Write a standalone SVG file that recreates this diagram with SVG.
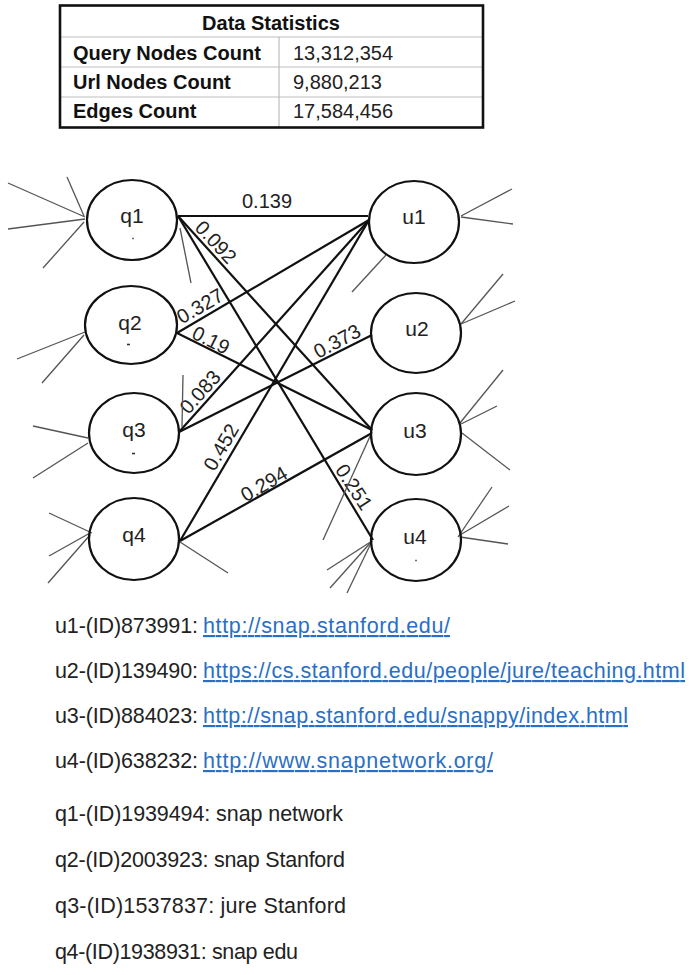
<svg xmlns="http://www.w3.org/2000/svg" width="689" height="975" viewBox="0 0 689 975">
<style>
.bg{fill:#ffffff}
.node{fill:none;stroke:#111;stroke-width:2.2}
.lbl{font-family:"Liberation Sans",Arial,sans-serif;font-size:21px;fill:#222;text-anchor:middle}
.edge{stroke:#111;stroke-width:2.2;fill:none}
.stub{stroke:#555;stroke-width:1.3;fill:none}
.elbl{font-family:"Liberation Sans",Arial,sans-serif;font-size:20px;fill:#222;text-anchor:middle}
.dot{stroke:#333;stroke-width:1.6}
.tb{font-family:"Liberation Sans",Arial,sans-serif;font-size:20px;font-weight:bold;fill:#111}
.tv{font-family:"Liberation Sans",Arial,sans-serif;font-size:20px;fill:#222}
.grid{stroke:#bdbdbd;stroke-width:1.2}
.leg{font-family:"Liberation Sans",Arial,sans-serif;font-size:21.5px;fill:#222}
.link{font-family:"Liberation Sans",Arial,sans-serif;font-size:21.5px;fill:#2a6fc4;text-decoration:underline}
</style>
<rect class="bg" x="0" y="0" width="689" height="975"/>

<g id="stats-table">
  <line class="grid" x1="61" y1="37" x2="482" y2="37"/>
  <line class="grid" x1="61" y1="67" x2="482" y2="67"/>
  <line class="grid" x1="61" y1="97" x2="482" y2="97"/>
  <line class="grid" x1="279" y1="37" x2="279" y2="127"/>
  <rect x="60" y="5.5" width="423" height="122" fill="none" stroke="#111" stroke-width="2.6"/>
  <text class="tb" x="271" y="30" text-anchor="middle">Data Statistics</text>
  <text class="tb" x="73" y="60">Query Nodes Count</text>
  <text class="tv" x="293" y="60">13,312,354</text>
  <text class="tb" x="73" y="89">Url Nodes Count</text>
  <text class="tv" x="293" y="89">9,880,213</text>
  <text class="tb" x="73" y="118">Edges Count</text>
  <text class="tv" x="293" y="118">17,584,456</text>
</g>

<g id="connectors">
  <line class="edge" x1="178" y1="216" x2="368" y2="216"/>
  <line class="edge" x1="178" y1="216" x2="372" y2="430"/>
  <line class="edge" x1="178" y1="216" x2="373" y2="540"/>
  <line class="edge" x1="177" y1="333" x2="369" y2="220"/>
  <line class="edge" x1="177" y1="333" x2="372" y2="430"/>
  <line class="edge" x1="179" y1="432" x2="369" y2="220"/>
  <line class="edge" x1="179" y1="432" x2="372" y2="335"/>
  <line class="edge" x1="180" y1="541" x2="369" y2="220"/>
  <line class="edge" x1="180" y1="541" x2="372" y2="433"/>
  <text class="elbl" x="267" y="208">0.139</text>
  <text class="elbl" transform="translate(216,242) rotate(47)" y="7">0.092</text>
  <text class="elbl" transform="translate(200,306) rotate(-30)" y="7">0.327</text>
  <text class="elbl" transform="translate(211,340) rotate(27)" y="7">0.19</text>
  <text class="elbl" transform="translate(337,341) rotate(-28)" y="7">0.373</text>
  <text class="elbl" transform="translate(200,392) rotate(-48)" y="7">0.083</text>
  <text class="elbl" transform="translate(221,447) rotate(-60)" y="7">0.452</text>
  <text class="elbl" transform="translate(264,484) rotate(-30)" y="7">0.294</text>
  <text class="elbl" transform="translate(354,487) rotate(57)" y="7">0.251</text>
  <line class="stub" x1="8" y1="183" x2="85" y2="217"/>
  <line class="stub" x1="67" y1="177" x2="84" y2="216"/>
  <line class="stub" x1="8" y1="229" x2="85" y2="219"/>
  <line class="stub" x1="43" y1="268" x2="84" y2="222"/>
  <line class="stub" x1="180" y1="228" x2="191" y2="283"/>
  <line class="stub" x1="17" y1="359" x2="85" y2="332"/>
  <line class="stub" x1="42" y1="383" x2="84" y2="335"/>
  <line class="stub" x1="33" y1="426" x2="88" y2="438"/>
  <line class="stub" x1="33" y1="478" x2="88" y2="443"/>
  <line class="stub" x1="183" y1="375" x2="182" y2="427"/>
  <line class="stub" x1="49" y1="513" x2="92" y2="533"/>
  <line class="stub" x1="49" y1="556" x2="90" y2="533"/>
  <line class="stub" x1="48" y1="583" x2="90" y2="535"/>
  <line class="stub" x1="180" y1="542" x2="228" y2="573"/>
  <line class="stub" x1="461" y1="216" x2="512" y2="189"/>
  <line class="stub" x1="461" y1="217" x2="513" y2="224"/>
  <line class="stub" x1="386" y1="255" x2="352" y2="292"/>
  <line class="stub" x1="461" y1="324" x2="503" y2="274"/>
  <line class="stub" x1="461" y1="324" x2="515" y2="301"/>
  <line class="stub" x1="460" y1="423" x2="503" y2="370"/>
  <line class="stub" x1="461" y1="424" x2="497" y2="406"/>
  <line class="stub" x1="462" y1="433" x2="510" y2="470"/>
  <line class="stub" x1="372" y1="432" x2="323" y2="540"/>
  <line class="stub" x1="458" y1="537" x2="492" y2="487"/>
  <line class="stub" x1="460" y1="535" x2="509" y2="506"/>
  <line class="stub" x1="460" y1="537" x2="508" y2="544"/>
  <line class="stub" x1="372" y1="541" x2="327" y2="570"/>
  <line class="stub" x1="372" y1="541" x2="330" y2="588"/>
  <line class="stub" x1="372" y1="541" x2="347" y2="593"/>
</g>

<g id="q1"><ellipse class="node" cx="132" cy="220" rx="45" ry="40"/><text class="lbl" x="132" y="223">q1</text><line class="dot" x1="132.3" y1="238.5" x2="133.7" y2="238.5"/></g>
<g id="q2"><ellipse class="node" cx="131" cy="325" rx="46" ry="39"/><text class="lbl" x="130" y="330">q2</text><line class="dot" x1="127" y1="344.5" x2="130" y2="344.5"/></g>
<g id="q3"><ellipse class="node" cx="134" cy="433" rx="45" ry="40"/><text class="lbl" x="134" y="437">q3</text><line class="dot" x1="132" y1="453.5" x2="135" y2="453.5"/></g>
<g id="q4"><ellipse class="node" cx="134" cy="539" rx="45" ry="41"/><text class="lbl" x="134" y="542">q4</text></g>
<g id="u1"><ellipse class="node" cx="414" cy="222" rx="45" ry="41"/><text class="lbl" x="414" y="224">u1</text></g>
<g id="u2"><ellipse class="node" cx="416" cy="333" rx="45" ry="40"/><text class="lbl" x="417" y="336">u2</text></g>
<g id="u3"><ellipse class="node" cx="416" cy="434" rx="45" ry="41"/><text class="lbl" x="415" y="438">u3</text></g>
<g id="u4"><ellipse class="node" cx="416" cy="540" rx="45" ry="41"/><text class="lbl" x="415" y="544">u4</text><line class="dot" x1="415.3" y1="560.5" x2="416.7" y2="560.5"/></g>

<g id="legend">
  <text class="leg" x="55" y="633" textLength="143">u1-(ID)873991:</text>
  <text class="link" x="203" y="633" textLength="247">http://snap.stanford.edu/</text>
  <text class="leg" x="55" y="678" textLength="143">u2-(ID)139490:</text>
  <text class="link" x="203" y="678" textLength="482">https://cs.stanford.edu/people/jure/teaching.html</text>
  <text class="leg" x="55" y="723" textLength="143">u3-(ID)884023:</text>
  <text class="link" x="203" y="723" textLength="425">http://snap.stanford.edu/snappy/index.html</text>
  <text class="leg" x="55" y="768" textLength="143">u4-(ID)638232:</text>
  <text class="link" x="203" y="768" textLength="290">http://www.snapnetwork.org/</text>
  <text class="leg" x="55" y="821" textLength="288">q1-(ID)1939494: snap network</text>
  <text class="leg" x="55" y="867" textLength="290">q2-(ID)2003923: snap Stanford</text>
  <text class="leg" x="55" y="913" textLength="291">q3-(ID)1537837: jure Stanford</text>
  <text class="leg" x="55" y="959" textLength="243">q4-(ID)1938931: snap edu</text>
</g>
</svg>
